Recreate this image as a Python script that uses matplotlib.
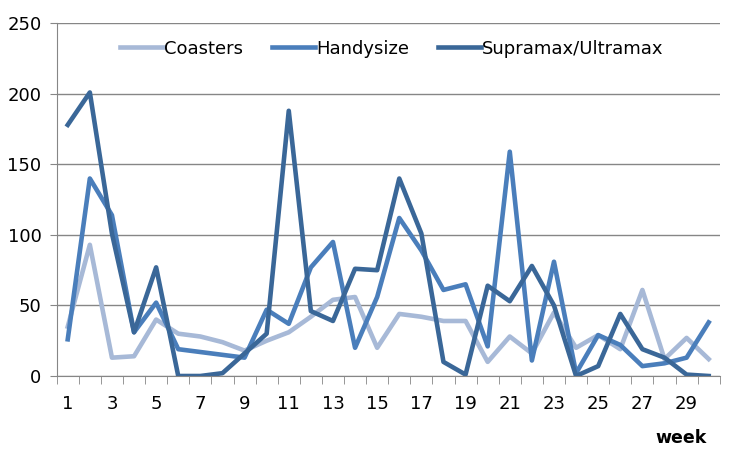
import matplotlib.pyplot as plt
import numpy as np

weeks = list(range(1, 31))
coasters = [35, 93, 13, 14, 40, 30, 28, 24, 18, 25, 31, 42, 54, 56, 20, 44, 42, 39, 39, 10,
            28, 16, 45, 20, 29, 19, 61, 12, 27, 12]
handysize = [26, 140, 114, 31, 52, 19, 17, 15, 13, 47, 37, 77, 95, 20, 56, 112, 89, 61, 65, 21,
             159, 11, 81, 2, 29, 22, 7, 9, 13, 38]
supramax = [178, 201, 101, 31, 77, 0, 0, 2, 16, 30, 188, 46, 39, 76, 75, 140, 101, 10, 1, 64,
            53, 78, 50, 0, 7, 44, 19, 13, 1, 0]

fig = plt.figure(figsize=(7.42, 4.71), dpi=100)
ax = fig.add_axes([0.0764, 0.2017, 0.8936, 0.7488])

ax.plot(weeks, coasters, color='#A7B9D7', lw=3.3, label='Coasters', solid_joinstyle='round')
ax.plot(weeks, handysize, color='#4A7EBB', lw=3.3, label='Handysize', solid_joinstyle='round')
ax.plot(weeks, supramax, color='#3A6798', lw=3.3, label='Supramax/Ultramax', solid_joinstyle='round')

ax.set_xlim(0.5, 30.5)
ax.set_ylim(0, 250)
ax.set_yticks(range(0, 251, 50))
ax.set_xticks(range(1, 30, 2))
ax.set_xticks(np.arange(0.5, 31, 1), minor=True)
ax.tick_params(axis='x', which='major', length=0, pad=14, labelsize=13)
ax.tick_params(axis='x', which='minor', length=6, color='#868686')
ax.tick_params(axis='y', length=5, color='#868686', labelsize=13, pad=6)
ax.grid(axis='y', color='#868686', lw=1)
ax.set_axisbelow(True)
for s in ['top', 'right']:
    ax.spines[s].set_visible(False)
for s in ['left', 'bottom']:
    ax.spines[s].set_color('#868686')

ax.text(0.98, -0.175, 'week', transform=ax.transAxes, ha='right', va='center',
        fontsize=12.5, fontweight='bold')

ax.legend(loc='upper center', bbox_to_anchor=(0.505, 1.0), ncol=3, frameon=False,
          fontsize=13, handlelength=2.4, handletextpad=0.05, columnspacing=1.6)

fig.savefig('out.png', dpi=100)
